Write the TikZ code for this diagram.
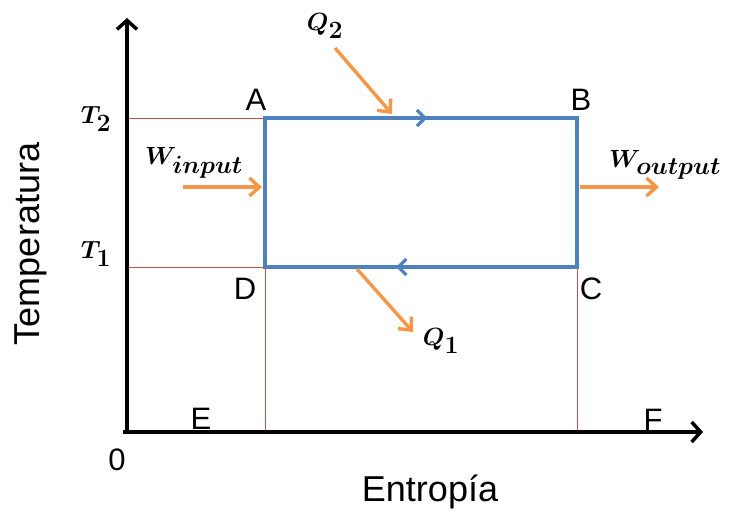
\documentclass[tikz,border=0pt]{standalone}
\usepackage{fontspec}
\setmainfont{Liberation Sans}
\usetikzlibrary{arrows.meta,calc}
\definecolor{cblue}{HTML}{4F81BD}
\definecolor{corange}{HTML}{F79646}
\definecolor{cred}{HTML}{C0504D}
\begin{document}
\begin{tikzpicture}[x=1pt,y=-1pt,
  axisline/.style={line width=3.5pt,black,-{Straight Barb[length=9pt,width=20pt]}},
  guide/.style={line width=1pt,cred},
  cycleline/.style={line width=3.2pt,cblue,line join=miter},
  dirmark/.style={line width=3.2pt,cblue,-{Straight Barb[length=8pt,width=16pt]}},
  flow/.style={line width=3.4pt,corange,-{Straight Barb[length=10pt,width=18pt]}},
  ptlabel/.style={font=\fontsize{31}{33}\selectfont,inner sep=0pt},
  axtitle/.style={font=\fontsize{36}{40}\selectfont,inner sep=0pt},
  mathlabel/.style={font=\fontsize{35}{38}\selectfont\boldmath,inner sep=0pt}]
\useasboundingbox (0,0) rectangle (733,515);
% key points
\coordinate (O) at (127,432);
\coordinate (Ytop) at (127,18);
\coordinate (Xend) at (703,432);
\coordinate (A) at (265,118);
\coordinate (B) at (577,118);
\coordinate (C) at (577,267);
\coordinate (D) at (265,267);
\coordinate (T2y) at (127,118);
\coordinate (T1y) at (127,267);
\coordinate (Dx) at (265,432);
\coordinate (Cx) at (577,432);
% guide lines
\draw[guide] (T2y) -- (A);
\draw[guide] (T1y) -- (D);
\draw[guide] (D) -- (Dx);
\draw[guide] (C) -- (Cx);
% labels E, F (behind axis)
\node[ptlabel] (lE) at (201,419) {E};
\node[ptlabel] (lF) at (653,420) {F};
% axes
\draw[axisline] (O) -- (Ytop);
\draw[axisline] ($(O)+(-4,0)$) -- (Xend);
% cycle
\draw[cycleline] (A) -- (B) -- (C) -- (D) -- cycle;
\draw[dirmark] (A) -- ($(A)!0.52!(B)$);
\draw[dirmark] (C) -- ($(C)!0.58!(D)$);
% heat and work flows
\coordinate (Q2s) at (335,48);
\coordinate (Q2e) at (392,114);
\coordinate (Q1s) at (357,269);
\coordinate (Q1e) at (413,332);
\coordinate (Wis) at (183,187);
\coordinate (Wie) at (262,187);
\coordinate (Wos) at (580,187);
\coordinate (Woe) at (659,187);
\draw[flow] (Q2s) -- (Q2e);
\draw[flow] (Q1s) -- (Q1e);
\draw[flow] (Wis) -- (Wie);
\draw[flow] (Wos) -- (Woe);
% labels
\node[ptlabel] (lA) at (256,100) {A};
\node[ptlabel] (lB) at (581,100) {B};
\node[ptlabel] (lC) at (591,289) {C};
\node[ptlabel] (lD) at (245,289) {D};
\node[ptlabel] (l0) at (117,460) {0};
\node[mathlabel] (lT2) at (96,119) {$T_2$};
\node[mathlabel] (lT1) at (96,254) {$T_1$};
\node[mathlabel] (lQ2) at (325,26) {$Q_2$};
\node[mathlabel] (lQ1) at (441,341) {$Q_1$};
\node[mathlabel] (lWi) at (194,163) {$W_{input}$};
\node[mathlabel] (lWo) at (665,165) {$W_{output}$};
\node[axtitle,rotate=90] (ltemp) at (31,244) {Temperatura};
\node[axtitle] (lent) at (430,492) {Entropía};
\end{tikzpicture}
\end{document}
